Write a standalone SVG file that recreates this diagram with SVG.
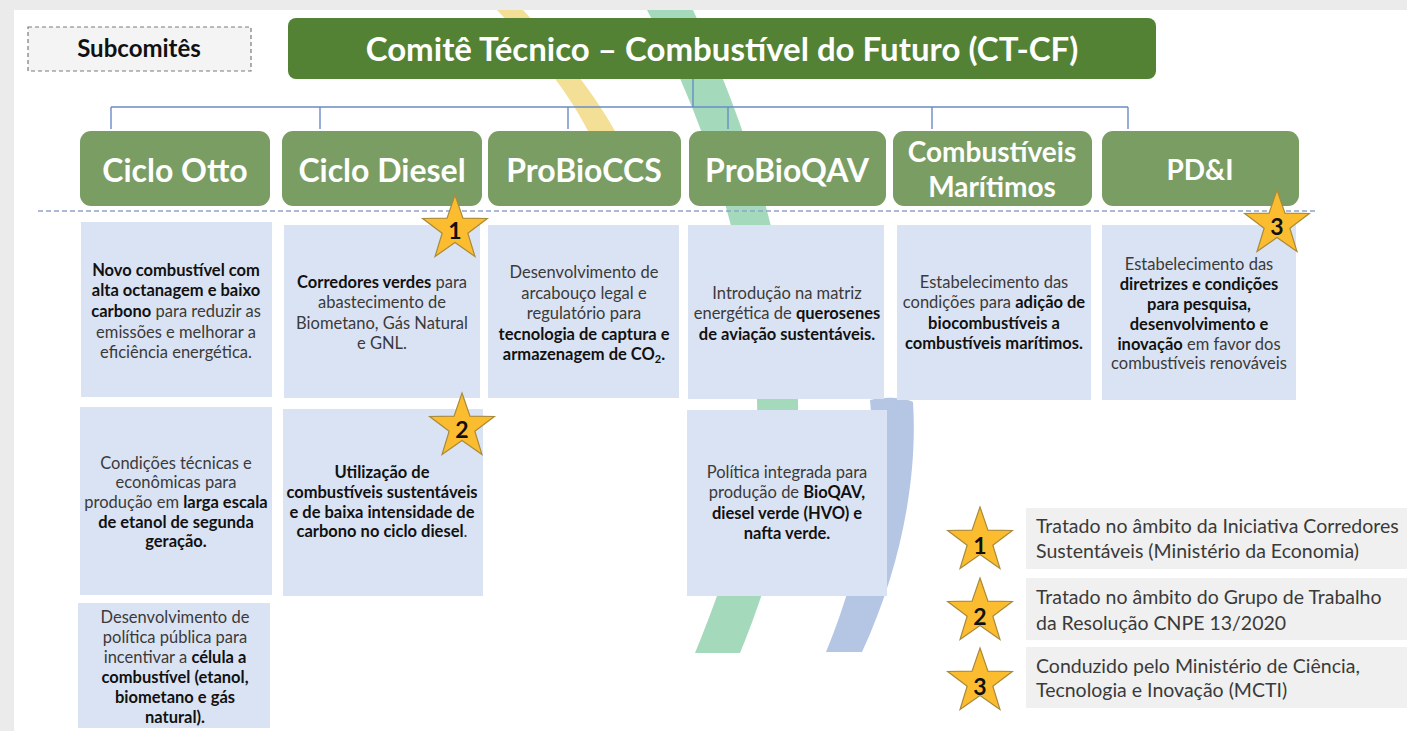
<svg xmlns="http://www.w3.org/2000/svg" width="1407" height="731" viewBox="0 0 1407 731">
<style>
.hdr{fill:#7a9d64}
.desc{fill:#dae3f3}
.ht{font-family:Lato,"Liberation Sans",sans-serif;font-weight:700;fill:#ffffff;text-anchor:middle}
.bt{font-family:Lato,"Liberation Sans",sans-serif;font-size:16.5px;fill:#3a3a3a;text-anchor:middle}
.b{font-weight:700;fill:#111111}
.lt{font-family:Lato,"Liberation Sans",sans-serif;font-size:19.5px;fill:#3a3a3a}
.sn{font-family:Lato,"Liberation Sans",sans-serif;font-size:23px;font-weight:700;fill:#111;text-anchor:middle}
.conn{stroke:#6a8cc8;stroke-width:1.4;fill:none}
</style>
<defs>
<path id="star" d="M0,-34 L7.94,-10.92 L32.34,-10.51 L12.84,4.17 L19.98,27.51 L0,13.5 L-19.98,27.51 L-12.84,4.17 L-32.34,-10.51 L-7.94,-10.92 Z" fill="#fbbd2f" stroke="#a88a3a" stroke-width="1.2"/>
</defs>
<rect x="0" y="0" width="1407" height="731" fill="#ebebeb"/>
<rect x="14" y="10" width="1393" height="721" fill="#ffffff"/>
<g id="swooshes">
<path d="M497,10 L523,10 C560,50 595,95 615,131 L588,131 C570,95 535,50 497,10 Z" fill="#f3df96"/>
<path d="M647,10 L693,10 C740,110 790,250 798,400 C800,480 770,580 740,653 L695,653 C725,580 760,480 757,400 C752,250 700,110 647,10 Z" fill="#a4d9bc"/>
<path d="M870,400 C885,396 905,398 913,402 C918,480 900,570 862,652 L826,652 C860,570 878,480 870,400 Z" fill="#b4c6e4"/>
</g>
<g id="subcomites">
<rect x="28" y="27" width="223" height="44" fill="#f4f4f4" stroke="#7a7a7a" stroke-width="1.2" stroke-dasharray="4,3"/>
<text x="139" y="57" font-family="Lato,'Liberation Sans',sans-serif" font-size="24" font-weight="700" fill="#111" text-anchor="middle">Subcomitês</text>
</g>
<g id="connectors">
<path class="conn" d="M693,79 V107 M111,107 H1128 M111,107 V129 M320,107 V129 M568,107 V129 M728,107 V129 M932,107 V129 M1128,107 V129"/>
<path d="M38,211 H1316" stroke="#8ea4c9" stroke-width="1.4" stroke-dasharray="5,3" fill="none"/>
</g>
<g id="title">
<rect x="288" y="18" width="868" height="61" rx="8" fill="#548235"/>
<text class="ht" x="722" y="61" font-size="33">Comitê Técnico – Combustível do Futuro (CT-CF)</text>
</g>
<g id="h-otto"><rect class="hdr" x="80" y="131" width="190" height="75" rx="11"/><text class="ht" x="175" y="182" font-size="32">Ciclo Otto</text></g>
<g id="h-diesel"><rect class="hdr" x="282" y="131" width="200" height="75" rx="11"/><text class="ht" x="382" y="182" font-size="32">Ciclo Diesel</text></g>
<g id="h-ccs"><rect class="hdr" x="488" y="131" width="193" height="75" rx="11"/><text class="ht" x="584" y="182" font-size="32">ProBioCCS</text></g>
<g id="h-qav"><rect class="hdr" x="689" y="131" width="197" height="75" rx="11"/><text class="ht" x="787" y="182" font-size="32">ProBioQAV</text></g>
<g id="h-mar"><rect class="hdr" x="893" y="131" width="199" height="75" rx="11"/><text class="ht" x="992" y="162" font-size="28">Combustíveis</text><text class="ht" x="992" y="197" font-size="28">Marítimos</text></g>
<g id="h-pdi"><rect class="hdr" x="1102" y="131" width="197" height="75" rx="11"/><text class="ht" x="1200" y="180" font-size="28">PD&amp;I</text></g>

<g id="d-otto1"><rect class="desc" x="81" y="222" width="191" height="175"/>
<text class="bt" x="176" y="276"><tspan class="b">Novo combustível com</tspan></text>
<text class="bt" x="176" y="296"><tspan class="b">alta octanagem e baixo</tspan></text>
<text class="bt" x="176" y="317"><tspan class="b">carbono</tspan> para reduzir as</text>
<text class="bt" x="176" y="338">emissões e melhorar  a</text>
<text class="bt" x="176" y="358">eficiência energética.</text>
</g>
<g id="d-diesel1"><rect class="desc" x="284" y="225" width="196" height="173"/>
<text class="bt" x="382" y="288"><tspan class="b">Corredores verdes</tspan> para</text>
<text class="bt" x="382" y="308">abastecimento de</text>
<text class="bt" x="382" y="329">Biometano, Gás Natural</text>
<text class="bt" x="382" y="349">e GNL.</text>
</g>
<g id="d-ccs"><rect class="desc" x="488" y="225" width="191" height="173"/>
<text class="bt" x="584" y="278">Desenvolvimento de</text>
<text class="bt" x="584" y="299">arcabouço legal e</text>
<text class="bt" x="584" y="319">regulatório para</text>
<text class="bt" x="584" y="340"><tspan class="b">tecnologia de captura e</tspan></text>
<text class="bt" x="584" y="360"><tspan class="b">armazenagem de CO</tspan><tspan class="b" font-size="11" dy="3">2</tspan><tspan class="b" dy="-3">.</tspan></text>
</g>
<g id="d-qav1"><rect class="desc" x="688" y="225" width="196" height="174"/>
<text class="bt" x="787" y="299">Introdução na matriz</text>
<text class="bt" x="787" y="319">energética de <tspan class="b">querosenes</tspan></text>
<text class="bt" x="787" y="340"><tspan class="b">de aviação sustentáveis.</tspan></text>
</g>
<g id="d-mar"><rect class="desc" x="897" y="225" width="194" height="175"/>
<text class="bt" x="994" y="288">Estabelecimento das</text>
<text class="bt" x="994" y="308">condições para <tspan class="b">adição de</tspan></text>
<text class="bt" x="994" y="329"><tspan class="b">biocombustíveis a</tspan></text>
<text class="bt" x="994" y="349"><tspan class="b">combustíveis marítimos.</tspan></text>
</g>
<g id="d-pdi"><rect class="desc" x="1102" y="225" width="194" height="175"/>
<text class="bt" x="1199" y="270">Estabelecimento das</text>
<text class="bt" x="1199" y="290"><tspan class="b">diretrizes e condições</tspan></text>
<text class="bt" x="1199" y="310"><tspan class="b">para pesquisa,</tspan></text>
<text class="bt" x="1199" y="330"><tspan class="b">desenvolvimento e</tspan></text>
<text class="bt" x="1199" y="350"><tspan class="b">inovação</tspan> em favor dos</text>
<text class="bt" x="1199" y="369">combustíveis renováveis</text>
</g>
<g id="d-otto2"><rect class="desc" x="80" y="407" width="192" height="188"/>
<text class="bt" x="176" y="469">Condições técnicas e</text>
<text class="bt" x="176" y="488">econômicas para</text>
<text class="bt" x="176" y="508">produção em  <tspan class="b">larga escala</tspan></text>
<text class="bt" x="176" y="528"><tspan class="b">de etanol de segunda</tspan></text>
<text class="bt" x="176" y="547"><tspan class="b">geração.</tspan></text>
</g>
<g id="d-diesel2"><rect class="desc" x="283" y="409" width="200" height="187"/>
<text class="bt" x="382" y="478"><tspan class="b">Utilização de</tspan></text>
<text class="bt" x="382" y="498"><tspan class="b">combustíveis sustentáveis</tspan></text>
<text class="bt" x="382" y="518"><tspan class="b">e de baixa intensidade de</tspan></text>
<text class="bt" x="382" y="537"><tspan class="b">carbono no ciclo diesel</tspan>.</text>
</g>
<g id="d-qav2"><rect class="desc" x="687" y="410" width="200" height="186"/>
<text class="bt" x="787" y="478">Política integrada para</text>
<text class="bt" x="787" y="498">produção de <tspan class="b">BioQAV,</tspan></text>
<text class="bt" x="787" y="519"><tspan class="b">diesel verde (HVO) e</tspan></text>
<text class="bt" x="787" y="539"><tspan class="b">nafta verde.</tspan></text>
</g>
<g id="d-otto3"><rect class="desc" x="78" y="603" width="192" height="125"/>
<text class="bt" x="175" y="623">Desenvolvimento de</text>
<text class="bt" x="175" y="643">política pública para</text>
<text class="bt" x="175" y="663">incentivar a <tspan class="b">célula a</tspan></text>
<text class="bt" x="175" y="683"><tspan class="b">combustível (etanol,</tspan></text>
<text class="bt" x="175" y="703"><tspan class="b">biometano e gás</tspan></text>
<text class="bt" x="175" y="723"><tspan class="b">natural).</tspan></text>
</g>

<g id="star-diesel1"><use href="#star" x="455" y="229"/><text class="sn" x="455" y="239">1</text></g>
<g id="star-diesel2"><use href="#star" x="462" y="427"/><text class="sn" x="462" y="438">2</text></g>
<g id="star-pdi"><use href="#star" x="1277" y="224"/><text class="sn" x="1277" y="235">3</text></g>

<g id="legend">
<rect x="1026" y="508" width="381" height="61" fill="#f0f0f0"/>
<rect x="1026" y="578" width="381" height="62" fill="#f0f0f0"/>
<rect x="1026" y="647" width="381" height="61" fill="#f0f0f0"/>
<use href="#star" x="980" y="541"/><text class="sn" x="980" y="554">1</text>
<use href="#star" x="980" y="612"/><text class="sn" x="980" y="625">2</text>
<use href="#star" x="980" y="682"/><text class="sn" x="980" y="695">3</text>
<text class="lt" x="1036" y="533">Tratado no âmbito da Iniciativa Corredores</text>
<text class="lt" x="1036" y="558">Sustentáveis (Ministério da Economia)</text>
<text class="lt" x="1036" y="604">Tratado no âmbito do Grupo de Trabalho</text>
<text class="lt" x="1036" y="630">da Resolução CNPE 13/2020</text>
<text class="lt" x="1036" y="673">Conduzido pelo Ministério de Ciência,</text>
<text class="lt" x="1036" y="697">Tecnologia e Inovação (MCTI)</text>
</g>
</svg>
